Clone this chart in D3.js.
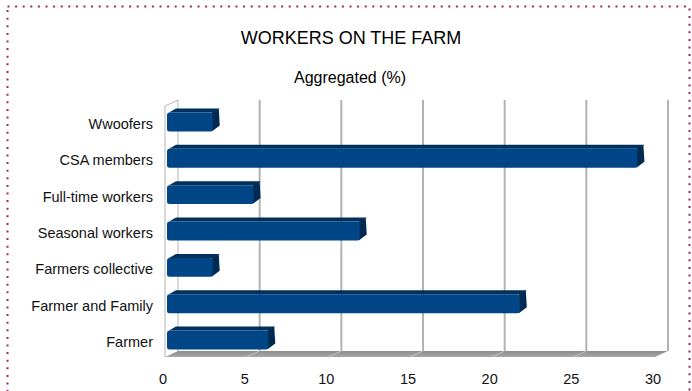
<!DOCTYPE html>
<html>
<head>
<meta charset="utf-8">
<script src="https://cdn.jsdelivr.net/npm/d3@7"></script>
<style>
  body { margin: 0; background: #fff; }
  svg { display: block; font-family: "Liberation Sans", Arial, sans-serif; }
</style>
</head>
<body>
<svg id="chart"></svg>
<script>
var width = 692, height = 391;

var categories = ["Wwoofers", "CSA members", "Full-time workers", "Seasonal workers",
    "Farmers collective", "Farmer and Family", "Farmer"];
var values = [2.8, 28.8, 5.3, 11.8, 2.8, 21.6, 6.2];
var ticks = [0, 5, 10, 15, 20, 25, 30];

var svg = d3.select('svg#chart')
    .attr('width', width)
    .attr('height', height);

// dotted frame
svg.append('rect')
    .attr('x', 7.5).attr('y', 6.5)
    .attr('width', 682).attr('height', 400)
    .attr('fill', 'none')
    .attr('stroke', '#a3245e')
    .attr('stroke-width', 2)
    .attr('stroke-dasharray', '2,5.6');

svg.append('text')
    .attr('x', 351).attr('y', 44)
    .attr('text-anchor', 'middle')
    .style('font-size', '18px')
    .attr('fill', '#000')
    .text('WORKERS ON THE FARM');

svg.append('text')
    .attr('x', 350).attr('y', 83)
    .attr('text-anchor', 'middle')
    .style('font-size', '16px')
    .attr('fill', '#000')
    .text('Aggregated (%)');

// depth of the 3d box
var depthX = 13, depthY = 6;

var x = d3.scaleLinear().domain([0, 30]).range([165, 655]);
var y = d3.scaleBand().domain(categories).range([105.8, 360.2])
    .paddingInner(0.48).paddingOuter(0.24);

var wallTop = 100, floorY = 357;

// left wall
svg.append('path')
    .attr('d', 'M' + x(0) + ',' + floorY + 'L' + x(0) + ',' + (wallTop + depthY) +
        'L' + (x(0) + depthX) + ',' + wallTop + 'L' + (x(0) + depthX) + ',' + (floorY - depthY))
    .attr('fill', '#fff')
    .attr('stroke', '#b3b3b3')
    .attr('stroke-width', 1);

// gridlines on back wall
svg.selectAll('line.grid')
    .data(ticks.slice(1))
    .enter()
    .append('line')
    .attr('class', 'grid')
    .attr('x1', function (d) { return x(d) + depthX; })
    .attr('x2', function (d) { return x(d) + depthX; })
    .attr('y1', wallTop)
    .attr('y2', floorY - depthY)
    .attr('stroke', '#b3b3b3')
    .attr('stroke-width', 2);

// floor
var floorGrad = svg.append('defs').append('linearGradient')
    .attr('id', 'floorGrad').attr('x1', 0).attr('y1', 0).attr('x2', 0).attr('y2', 1);
floorGrad.append('stop').attr('offset', '0%').attr('stop-color', '#8c8c8c');
floorGrad.append('stop').attr('offset', '100%').attr('stop-color', '#a8a8a8');

svg.append('path')
    .attr('d', 'M' + x(0) + ',' + floorY + 'L' + (x(0) + depthX) + ',' + (floorY - depthY) +
        'L' + (x(30) + depthX) + ',' + (floorY - depthY) + 'L' + x(30) + ',' + floorY + 'Z')
    .attr('fill', 'url(#floorGrad)');

svg.selectAll('line.floorgrid')
    .data(ticks.slice(1, 6))
    .enter()
    .append('line')
    .attr('class', 'floorgrid')
    .attr('x1', function (d) { return x(d) + depthX; })
    .attr('x2', function (d) { return x(d); })
    .attr('y1', floorY - depthY)
    .attr('y2', floorY)
    .attr('stroke', '#c4c4c4')
    .attr('stroke-width', 1);

// bars
var bx = 7, by = 4, h = y.bandwidth();
var bars = svg.selectAll('g.bar')
    .data(categories)
    .enter()
    .append('g')
    .attr('class', 'bar');

bars.append('path')
    .attr('d', function (d, i) {
        var x0 = x(0) + 2, x1 = x(values[i]) + 2, y0 = y(d) - 2;
        return 'M' + (x0 + 2) + ',' + y0 + 'L' + (x0 + 2 + bx) + ',' + (y0 - by) +
            'L' + (x1 + bx) + ',' + (y0 - by) + 'L' + x1 + ',' + y0 + 'Z';
    })
    .attr('fill', '#00305e');

bars.append('path')
    .attr('d', function (d, i) {
        var x1 = x(values[i]) + 2, y0 = y(d) - 2;
        return 'M' + (x1 - 1) + ',' + y0 + 'L' + (x1 - 1 + bx) + ',' + (y0 - by) +
            'L' + (x1 + bx) + ',' + (y0 - by + h - 2) + 'L' + (x1 - 1) + ',' + (y0 + h) + 'Z';
    })
    .attr('fill', '#002a52');

bars.append('rect')
    .attr('x', x(0) + 2)
    .attr('y', function (d) { return y(d) - 2; })
    .attr('width', function (d, i) { return x(values[i]) - x(0); })
    .attr('height', h)
    .attr('rx', 2.5)
    .attr('fill', '#004586');

// category labels
svg.selectAll('text.cat')
    .data(categories)
    .enter()
    .append('text')
    .attr('class', 'cat')
    .attr('x', 153)
    .attr('y', function (d) { return y(d) + h / 2; })
    .attr('dy', '0.35em')
    .attr('text-anchor', 'end')
    .style('font-size', '14.5px')
    .attr('fill', '#111')
    .text(function (d) { return d; });

// value axis labels
svg.selectAll('text.tick')
    .data(ticks)
    .enter()
    .append('text')
    .attr('class', 'tick')
    .attr('x', function (d) { return x(d) - 2; })
    .attr('y', 379)
    .attr('dy', '0.35em')
    .attr('text-anchor', 'middle')
    .style('font-size', '14.5px')
    .attr('fill', '#111')
    .text(function (d) { return d; });
</script>
</body>
</html>
